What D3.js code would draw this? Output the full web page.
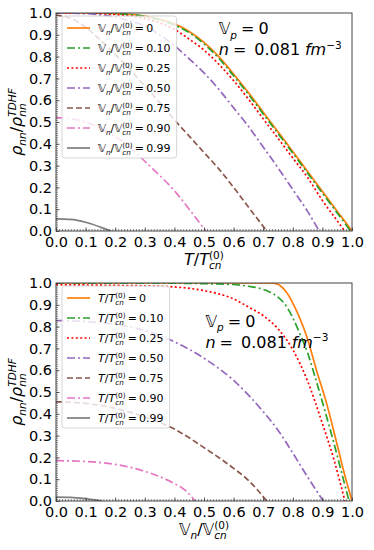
<!DOCTYPE html>
<html>
<head>
<meta charset="utf-8">
<script src="https://cdn.jsdelivr.net/npm/d3@7"></script>
<style>
  body { margin: 0; background: #fff; }
  svg text { font-family: "DejaVu Sans", sans-serif; fill: #000; }
</style>
</head>
<body>
<div id="chart"></div>
<script>
  "use strict";

  // top panel: rho vs T, one curve per V_n / V_cn
  var topLabels = ["0", "0.10", "0.25", "0.50", "0.75", "0.90", "0.99"];
  var topV000 = [[0, 1.0], [0.1, 1.0], [0.2, 0.998], [0.3, 0.986], [0.35, 0.972], [0.4, 0.95], [0.45, 0.915], [0.5, 0.865], [0.55, 0.8], [0.6, 0.72], [0.65, 0.635], [0.7, 0.545], [0.75, 0.455], [0.8, 0.365], [0.85, 0.273], [0.9, 0.182], [0.95, 0.091], [1.0, 0]];
  var topV010 = [[0, 1.0], [0.1, 1.0], [0.2, 0.997], [0.3, 0.984], [0.35, 0.969], [0.4, 0.945], [0.45, 0.91], [0.5, 0.858], [0.55, 0.792], [0.6, 0.712], [0.65, 0.627], [0.7, 0.537], [0.75, 0.447], [0.8, 0.357], [0.85, 0.265], [0.9, 0.174], [0.95, 0.083], [0.995, 0]];
  var topV025 = [[0, 1.0], [0.1, 0.999], [0.2, 0.993], [0.3, 0.975], [0.35, 0.955], [0.4, 0.925], [0.45, 0.88], [0.5, 0.83], [0.55, 0.765], [0.6, 0.69], [0.65, 0.605], [0.7, 0.515], [0.75, 0.425], [0.8, 0.335], [0.85, 0.245], [0.9, 0.14], [0.95, 0.047], [0.975, 0]];
  var topV050 = [[0, 1.0], [0.1, 0.997], [0.2, 0.98], [0.3, 0.94], [0.4, 0.85], [0.45, 0.79], [0.5, 0.725], [0.55, 0.65], [0.6, 0.565], [0.65, 0.48], [0.7, 0.385], [0.75, 0.29], [0.8, 0.19], [0.85, 0.09], [0.889, 0]];
  var topV075 = [[0, 0.99], [0.05, 0.975], [0.1, 0.935], [0.15, 0.876], [0.2, 0.81], [0.25, 0.74], [0.3, 0.665], [0.35, 0.59], [0.4, 0.51], [0.45, 0.435], [0.5, 0.36], [0.55, 0.285], [0.6, 0.2], [0.65, 0.11], [0.712, 0]];
  var topV090 = [[0, 0.52], [0.05, 0.515], [0.1, 0.5], [0.15, 0.47], [0.2, 0.433], [0.25, 0.385], [0.3, 0.32], [0.35, 0.255], [0.4, 0.185], [0.45, 0.1], [0.506, 0]];
  var topV099 = [[0, 0.056], [0.05, 0.053], [0.1, 0.04], [0.15, 0.018], [0.185, 0]];

  // bottom panel: rho vs V_n / V_cn, one curve per T / T_cn
  var bottomLabels = ["0", "0.10", "0.25", "0.50", "0.75", "0.90", "0.99"];
  var botT000 = [[0, 1.0], [0.5, 1.0], [0.72, 1.0], [0.74, 0.998], [0.76, 0.985], [0.78, 0.955], [0.8, 0.908], [0.82, 0.85], [0.847, 0.755], [0.88, 0.6], [0.914, 0.449], [0.943, 0.296], [0.971, 0.142], [1.0, 0]];
  var botT010 = [[0, 1.0], [0.4, 0.999], [0.5, 0.997], [0.6, 0.993], [0.65, 0.985], [0.69, 0.975], [0.72, 0.96], [0.75, 0.935], [0.78, 0.89], [0.8, 0.84], [0.823, 0.77], [0.85, 0.68], [0.875, 0.57], [0.905, 0.43], [0.935, 0.285], [0.963, 0.14], [0.99, 0]];
  var botT025 = [[0, 0.992], [0.1, 0.991], [0.2, 0.989], [0.3, 0.987], [0.4, 0.982], [0.5, 0.965], [0.55, 0.95], [0.6, 0.927], [0.65, 0.89], [0.7, 0.85], [0.75, 0.79], [0.8, 0.694], [0.85, 0.55], [0.9, 0.355], [0.94, 0.185], [0.976, 0]];
  var botT050 = [[0, 0.828], [0.1, 0.823], [0.2, 0.81], [0.3, 0.782], [0.4, 0.73], [0.5, 0.655], [0.6, 0.553], [0.7, 0.41], [0.75, 0.325], [0.8, 0.22], [0.85, 0.11], [0.903, 0]];
  var botT075 = [[0, 0.455], [0.1, 0.448], [0.2, 0.425], [0.3, 0.385], [0.4, 0.33], [0.5, 0.245], [0.6, 0.15], [0.65, 0.095], [0.712, 0]];
  var botT090 = [[0, 0.185], [0.1, 0.181], [0.2, 0.168], [0.3, 0.136], [0.35, 0.112], [0.4, 0.08], [0.44, 0.045], [0.47, 0]];
  var botT099 = [[0, 0.018], [0.05, 0.017], [0.1, 0.011], [0.155, 0]];

  var tickValues = [0, 0.1, 0.2, 0.3, 0.4, 0.5, 0.6, 0.7, 0.8, 0.9, 1.0];

  var styles = [
    {color: "#ff7f0e", dash: null},
    {color: "#2ca02c", dash: "8,3,2,3"},
    {color: "#ff0000", dash: "2,2.4"},
    {color: "#9467bd", dash: "8,3,2,3"},
    {color: "#8c564b", dash: "6,3"},
    {color: "#e377c2", dash: "8,3,2,3"},
    {color: "#7f7f7f", dash: null}
  ];

  var W = 374, H = 550;
  var svg = d3.select("#chart").append("svg")
    .attr("width", W)
    .attr("height", H);

  // draws a mathtext-like row of pieces, returns its width
  function mathText(parent, parts, size) {
    var g = parent.append("g");
    var x = 0;
    function piece(p, px, py, fs) {
      var t = g.append("text")
        .attr("x", px)
        .attr("y", py)
        .style("font-size", fs + "px")
        .style("font-style", p.i ? "italic" : "normal")
        .text(p.t);
      return t.node().getComputedTextLength();
    }
    parts.forEach(function(p) {
      if (p.gap) {
        x += p.gap * size;
      } else if (p.sup || p.sub) {
        var w = 0;
        if (p.sup) w = Math.max(w, piece(p.sup, x, -size * 0.4, size * 0.66));
        if (p.sub) w = Math.max(w, piece(p.sub, x, size * 0.28, size * 0.66));
        x += w;
      } else {
        x += piece(p, x, 0, size);
      }
    });
    return {g: g, width: x};
  }

  var bbV = "\uD835\uDD4D";
  var yLabelParts = [{t: "\u03C1", i: 1}, {sub: {t: "nn", i: 1}}, {t: "/"}, {t: "\u03C1", i: 1}, {sup: {t: "TDHF", i: 1}, sub: {t: "nn", i: 1}}];
  var tLabelParts = [{t: "T", i: 1}, {t: "/"}, {t: "T", i: 1}, {sup: {t: "(0)"}, sub: {t: "cn", i: 1}}];
  var vLabelParts = [{t: bbV}, {sub: {t: "n", i: 1}}, {t: "/"}, {t: bbV}, {sup: {t: "(0)"}, sub: {t: "cn", i: 1}}];

  function drawPanel(cfg) {
    var x = d3.scaleLinear().domain([0, 1]).range([56, 352]);
    var y = d3.scaleLinear().domain([0, 1]).range([cfg.bottom, cfg.top]);
    var panel = svg.append("g");

    panel.append("clipPath")
      .attr("id", cfg.id)
      .append("rect")
      .attr("x", x(0))
      .attr("y", y(1))
      .attr("width", x(1) - x(0))
      .attr("height", y(0) - y(1));

    // Lines
    var line = d3.line()
      .x(function(d) { return x(d[0]); })
      .y(function(d) { return y(d[1]); })
      .curve(d3.curveMonotoneX);

    panel.append("g")
      .attr("clip-path", "url(#" + cfg.id + ")")
      .selectAll("path")
      .data(cfg.series)
      .enter()
      .append("path")
      .attr("d", line)
      .attr("fill", "none")
      .attr("stroke-width", 1.7)
      .attr("stroke", function(d, i) { return styles[i].color; })
      .attr("stroke-dasharray", function(d, i) { return styles[i].dash; });

    // Axis Setting
    var minor = d3.range(0, 101).map(function(v) { return v / 100; });
    var xMinor = panel.append("g")
      .attr("transform", "translate(0," + y(0) + ")")
      .call(d3.axisBottom(x).tickValues(minor).tickSize(-2).tickFormat(""));
    var yMinor = panel.append("g")
      .attr("transform", "translate(" + x(0) + ",0)")
      .call(d3.axisLeft(y).tickValues(minor).tickSize(-2).tickFormat(""));
    [xMinor, yMinor].forEach(function(a) {
      a.select(".domain").remove();
      a.selectAll("line").attr("stroke", "#333").attr("stroke-width", 0.6);
    });

    var xAxis = panel.append("g")
      .attr("transform", "translate(0," + y(0) + ")")
      .call(d3.axisBottom(x).tickValues(tickValues).tickSize(-3.5).tickPadding(6).tickFormat(d3.format(".1f")));
    var yAxis = panel.append("g")
      .attr("transform", "translate(" + x(0) + ",0)")
      .call(d3.axisLeft(y).tickValues(tickValues).tickSize(-3.5).tickPadding(4).tickFormat(d3.format(".1f")));
    [xAxis, yAxis].forEach(function(a) {
      a.select(".domain").remove();
      a.selectAll("line").attr("stroke", "#333").attr("stroke-width", 0.8);
      a.selectAll("text")
        .style("font-family", "DejaVu Sans")
        .style("font-size", "14.5px")
        .attr("fill", "#000");
    });

    panel.append("rect")
      .attr("x", x(0))
      .attr("y", y(1))
      .attr("width", x(1) - x(0))
      .attr("height", y(0) - y(1))
      .attr("fill", "none")
      .attr("stroke", "#444")
      .attr("stroke-width", 1);

    // Axis labels
    var xl = mathText(panel, cfg.xLabel, 16);
    xl.g.attr("transform", "translate(" + ((x(0) + x(1)) / 2 - xl.width / 2) + "," + (y(0) + 34) + ")");

    var ylHolder = panel.append("g")
      .attr("transform", "translate(22," + ((y(0) + y(1)) / 2) + ") rotate(-90)");
    var yl = mathText(ylHolder, yLabelParts, 16);
    yl.g.attr("transform", "translate(" + (-yl.width / 2) + ",0)");

    // Annotation
    var a1 = mathText(panel, [{t: bbV}, {sub: {t: "p", i: 1}}, {gap: 0.25}, {t: "="}, {gap: 0.25}, {t: "0"}], 16);
    a1.g.attr("transform", "translate(" + x(cfg.noteX) + "," + y(cfg.noteY) + ")");
    var a2 = mathText(panel, [{t: "n", i: 1}, {gap: 0.25}, {t: "="}, {gap: 0.5}, {t: "0.081"}, {gap: 0.3}, {t: "fm", i: 1}, {sup: {t: "\u22123"}}], 16);
    a2.g.attr("transform", "translate(" + x(cfg.noteX) + "," + (y(cfg.noteY) + 21) + ")");

    // Legend
    var lx = x(0) + 6, ly = y(1) + 3;
    var legend = panel.append("g").attr("transform", "translate(" + lx + "," + ly + ")");
    var box = legend.append("rect")
      .attr("rx", 3)
      .attr("fill", "#fff")
      .attr("fill-opacity", 0.8)
      .attr("stroke", "#ccc")
      .attr("stroke-width", 0.8);
    var maxW = 0;
    cfg.labels.forEach(function(lab, i) {
      var row = legend.append("g").attr("transform", "translate(0," + (12 + 20 * i) + ")");
      row.append("line")
        .attr("x1", 5)
        .attr("x2", 28)
        .attr("stroke", styles[i].color)
        .attr("stroke-width", 1.7)
        .attr("stroke-dasharray", styles[i].dash);
      var parts = cfg.legendParts.concat([{gap: 0.2}, {t: "="}, {gap: 0.2}, {t: lab}]);
      var m = mathText(row, parts, 11);
      m.g.attr("transform", "translate(36,4)");
      maxW = Math.max(maxW, m.width);
    });
    box.attr("width", 36 + maxW + 6).attr("height", 20 * cfg.labels.length + 2);
  }

  drawPanel({
    id: "clipTop",
    top: 13,
    bottom: 231,
    series: [topV000, topV010, topV025, topV050, topV075, topV090, topV099],
    labels: topLabels,
    legendParts: vLabelParts,
    xLabel: tLabelParts,
    noteX: 0.55,
    noteY: 0.903
  });

  drawPanel({
    id: "clipBottom",
    top: 283,
    bottom: 501,
    series: [botT000, botT010, botT025, botT050, botT075, botT090, botT099],
    labels: bottomLabels,
    legendParts: tLabelParts,
    xLabel: vLabelParts,
    noteX: 0.505,
    noteY: 0.8
  });
</script>
</body>
</html>
